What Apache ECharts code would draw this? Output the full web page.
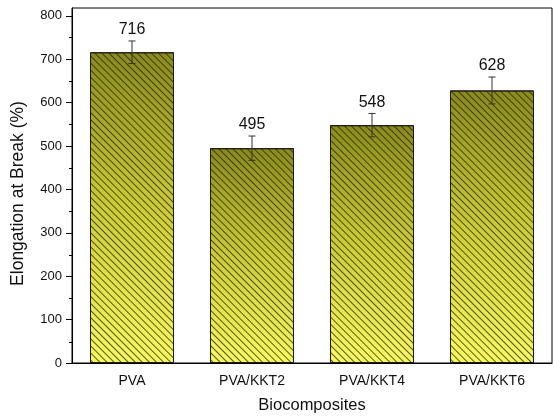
<!DOCTYPE html>
<html>
<head>
<meta charset="utf-8">
<script src="https://cdn.jsdelivr.net/npm/echarts@6/dist/echarts.min.js"></script>
<style>
  html, body { margin: 0; padding: 0; background: #fff; }
  #chart { width: 553px; height: 419px; }
</style>
</head>
<body>
<div id="chart"></div>
<script>
// Elongation at break of PVA films and PVA/KKT biocomposites
const categories = ['PVA', 'PVA/KKT2', 'PVA/KKT4', 'PVA/KKT6'];
const elongation = [716, 495, 548, 628];
const elongationError = [26, 28, 27, 31];
const majorTicks = [0, 100, 200, 300, 400, 500, 600, 700, 800];
const minorTicks = [50, 150, 250, 350, 450, 550, 650, 750];

const FONT = '"Liberation Sans", Arial, sans-serif';
const Y_MAX = 818;

const gridRect = { left: 72, right: 1, top: 8, bottom: 55 };

const errorData = elongation.map((v, i) => [i, v - elongationError[i], v + elongationError[i], v]);

const chart = echarts.init(document.getElementById('chart'), null, { renderer: 'canvas' });

chart.setOption({
  animation: false,
  backgroundColor: '#ffffff',
  grid: [
    Object.assign({ show: true, borderColor: '#000', borderWidth: 1, backgroundColor: 'transparent' }, gridRect),
    Object.assign({ show: false }, gridRect)
  ],
  xAxis: [
    {
      type: 'category',
      gridIndex: 0,
      data: categories,
      name: 'Biocomposites',
      nameLocation: 'middle',
      nameGap: 34,
      nameTextStyle: { fontFamily: FONT, fontSize: 16.5, color: '#111' },
      axisLine: { lineStyle: { color: '#000', width: 1 } },
      axisTick: { alignWithLabel: true, length: 6, lineStyle: { color: '#000' } },
      axisLabel: { fontFamily: FONT, fontSize: 14, color: '#111', margin: 11 },
      splitLine: { show: false }
    },
    {
      // short ticks on the category boundaries
      type: 'category',
      gridIndex: 1,
      data: categories,
      axisLine: { show: false },
      axisTick: { length: 3, lineStyle: { color: '#000' } },
      axisLabel: { show: false },
      splitLine: { show: false }
    }
  ],
  yAxis: [
    {
      type: 'value',
      gridIndex: 0,
      min: 0,
      max: Y_MAX,
      interval: 100,
      name: 'Elongation at Break (%)',
      nameLocation: 'middle',
      nameGap: 45,
      nameTextStyle: { fontFamily: FONT, fontSize: 17.5, color: '#111', padding: [0, 16, 0, 0] },
      axisLine: { show: true, lineStyle: { color: '#000', width: 1 } },
      axisTick: { show: true, length: 6, customValues: majorTicks, lineStyle: { color: '#000' } },
      axisLabel: { fontFamily: FONT, fontSize: 13, color: '#111', margin: 10, customValues: majorTicks },
      splitLine: { show: false }
    },
    {
      // minor ticks between hundreds
      type: 'value',
      gridIndex: 1,
      min: 0,
      max: Y_MAX,
      interval: 100,
      axisLine: { show: false },
      axisTick: { show: true, length: 3, customValues: minorTicks, lineStyle: { color: '#000' } },
      axisLabel: { show: false },
      splitLine: { show: false }
    }
  ],
  series: [
    {
      type: 'bar',
      xAxisIndex: 0,
      yAxisIndex: 0,
      data: elongation,
      barWidth: '70%',
      itemStyle: {
        color: new echarts.graphic.LinearGradient(0, 0, 0, 1, [
          { offset: 0, color: '#8a8a1e' },
          { offset: 0.5, color: '#cccc38' },
          { offset: 1, color: '#f8f862' }
        ]),
        borderColor: '#1a1a1a',
        borderWidth: 1,
        decal: {
          symbol: 'rect',
          symbolSize: 1,
          color: 'rgba(30,30,0,0.72)',
          dashArrayX: [1, 0],
          dashArrayY: [1, 3.2],
          rotation: Math.PI / 4
        }
      },
      z: 2
    },
    {
      type: 'custom',
      xAxisIndex: 0,
      yAxisIndex: 0,
      data: errorData,
      z: 3,
      renderItem: function (params, api) {
        const x = api.value(0);
        const hi = api.coord([x, api.value(2)]);
        const lo = api.coord([x, api.value(1)]);
        const cap = 3.5;
        const line = { stroke: '#333', lineWidth: 1 };
        return {
          type: 'group',
          children: [
            { type: 'line', shape: { x1: hi[0], y1: hi[1], x2: lo[0], y2: lo[1] }, style: line },
            { type: 'line', shape: { x1: hi[0] - cap, y1: hi[1], x2: hi[0] + cap, y2: hi[1] }, style: line },
            { type: 'line', shape: { x1: lo[0] - cap, y1: lo[1], x2: lo[0] + cap, y2: lo[1] }, style: line },
            {
              type: 'text',
              x: hi[0],
              y: hi[1] - 3,
              style: {
                text: String(api.value(3)),
                fontFamily: FONT,
                fontSize: 16,
                fill: '#111',
                align: 'center',
                verticalAlign: 'bottom'
              }
            }
          ]
        };
      }
    }
  ]
});
</script>
</body>
</html>
